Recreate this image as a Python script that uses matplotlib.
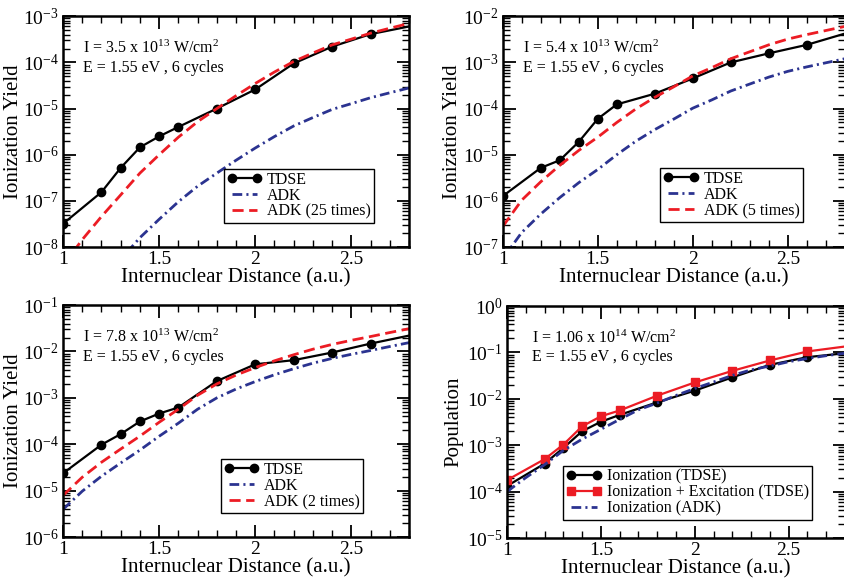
import matplotlib
matplotlib.use('Agg')
import matplotlib.pyplot as plt
import matplotlib.ticker as ticker
import numpy as np

# data
tdse_r = [1.0, 1.2, 1.3, 1.4, 1.5, 1.6, 1.8, 2.0, 2.2, 2.4, 2.6, 2.8]
adk_r = [1.0, 1.1, 1.2, 1.3, 1.4, 1.5, 1.6, 1.7, 1.8, 1.9,
         2.0, 2.1, 2.2, 2.3, 2.4, 2.5, 2.6, 2.7, 2.8]

tdse_35 = [3.2e-8, 1.55e-7, 5.2e-7, 1.45e-6, 2.5e-6, 4.0e-6, 1.0e-5, 2.6e-5,
           9.5e-5, 2.2e-4, 4.1e-4, 6.0e-4]
adk_35 = [1.6e-10, 5.8e-10, 1.84e-9, 5.4e-9, 1.6e-8, 4.0e-8, 9.6e-8, 2.08e-7,
          4.0e-7, 7.6e-7, 1.4e-6, 2.48e-6, 4.2e-6, 6.4e-6, 9.6e-6, 1.28e-5,
          1.72e-5, 2.2e-5, 2.8e-5]

tdse_54 = [1.27e-6, 5.2e-6, 7.6e-6, 1.9e-5, 6.0e-5, 1.23e-4, 2.1e-4, 4.5e-4,
           1.0e-3, 1.57e-3, 2.4e-3, 4.2e-3]
adk_54 = [5.6e-8, 2.08e-7, 5.2e-7, 1.18e-6, 2.48e-6, 4.8e-6, 1.0e-5, 1.96e-5,
          3.5e-5, 5.92e-5, 1.02e-4, 1.54e-4, 2.4e-4, 3.4e-4, 4.8e-4, 6.4e-4,
          8.0e-4, 9.8e-4, 1.2e-3]

tdse_78 = [2.37e-5, 9.8e-5, 1.66e-4, 3.1e-4, 4.6e-4, 6.2e-4, 2.3e-3, 5.3e-3,
           6.5e-3, 9.5e-3, 1.48e-2, 2.2e-2]
adk_78 = [3.95e-6, 9.75e-6, 2.05e-5, 3.95e-5, 7.5e-5, 1.49e-4, 2.85e-4, 5.7e-4,
          1.0e-3, 1.55e-3, 2.25e-3, 3.15e-3, 4.25e-3, 5.6e-3, 7.1e-3, 8.7e-3,
          1.05e-2, 1.28e-2, 1.55e-2]

ion_106 = [1.32e-4, 4.0e-4, 8.7e-4, 2.0e-3, 3.2e-3, 4.5e-3, 8.4e-3, 1.5e-2,
           2.9e-2, 5.4e-2, 7.9e-2, 9.6e-2]
ionexc_106 = [1.77e-4, 5.0e-4, 1.03e-3, 2.55e-3, 4.2e-3, 5.6e-3, 1.17e-2,
              2.25e-2, 4.0e-2, 6.7e-2, 1.05e-1, 1.34e-1]
adk_106 = [1.0e-4, 2.0e-4, 3.8e-4, 7.7e-4, 1.35e-3, 2.2e-3, 3.6e-3, 5.8e-3,
           8.1e-3, 1.18e-2, 1.67e-2, 2.3e-2, 3.2e-2, 4.2e-2, 5.1e-2, 6.3e-2,
           7.4e-2, 8.5e-2, 9.6e-2]

plt.rcParams['font.family'] = ['Liberation Serif', 'DejaVu Serif']
plt.rcParams['mathtext.fontset'] = 'custom'
plt.rcParams['mathtext.rm'] = 'Liberation Serif'
plt.rcParams['mathtext.it'] = 'Liberation Serif:italic'
plt.rcParams['lines.scale_dashes'] = False

blue = '#2b3390'
red = '#ec1c24'
dashdot = (7, 3, 1.5, 3)
dashed = (8, 4)

fig = plt.figure(figsize=(8.45, 5.8), dpi=100)


def setup_axes(ax, ylo, yhi, ylabel, ylab_x):
    ax.set_yscale('log')
    ax.set_xlim(1, 2.8)
    ax.set_ylim(ylo, yhi)
    ax.xaxis.set_major_locator(ticker.FixedLocator([1, 1.5, 2, 2.5]))
    ax.xaxis.set_major_formatter(ticker.FormatStrFormatter('%g'))
    ax.xaxis.set_minor_locator(ticker.MultipleLocator(0.1))
    ax.yaxis.set_major_locator(ticker.LogLocator(base=10, numticks=20))
    ax.yaxis.set_minor_locator(ticker.LogLocator(base=10, subs=np.arange(2, 10), numticks=20))
    ax.yaxis.set_minor_formatter(ticker.NullFormatter())
    ax.tick_params(which='both', direction='in', top=True, right=True)
    ax.tick_params(which='major', length=9, width=1.3, labelsize=14, pad=3)
    ax.tick_params(which='minor', length=5, width=1.0)
    for s in ax.spines.values():
        s.set_linewidth(1.8)
    ax.set_xlabel('Internuclear Distance (a.u.)', fontsize=15, labelpad=0)
    ax.set_ylabel(ylabel, fontsize=15)
    ax.yaxis.set_label_coords(ylab_x, 0.5)


def legend(ax, anchor):
    leg = ax.legend(loc='lower right', bbox_to_anchor=anchor, fontsize=11.5,
                    numpoints=2, handlelength=2.2, handletextpad=0.3,
                    labelspacing=0.0, borderpad=0.2, borderaxespad=0,
                    fancybox=False, framealpha=1, edgecolor='black')
    leg.get_frame().set_linewidth(1.0)


def tdse_plot(ax, r, y, label, color='black', marker='o'):
    ax.plot(r, y, color=color, lw=1.6, marker=marker, ms=6,
            markevery=slice(0, len(r) - 1), label=label)


panels = [
    ([0.0746, 0.574, 0.4095, 0.398], tdse_35, adk_35, 25, 1e-8, 1e-3,
     r'I = 3.5 x 10$^{13}$ W/cm$^{2}$', (0.899, 0.104), -0.115),
    ([0.595, 0.574, 0.4047, 0.398], tdse_54, adk_54, 5, 1e-7, 1e-2,
     r'I = 5.4 x 10$^{13}$ W/cm$^{2}$', (0.877, 0.108), -0.118),
    ([0.0746, 0.074, 0.4095, 0.400], tdse_78, adk_78, 2, 1e-6, 1e-1,
     r'I = 7.8 x 10$^{13}$ W/cm$^{2}$', (0.867, 0.103), -0.115),
]

for rect, tdse, adk, factor, ylo, yhi, itext, anchor, ylab_x in panels:
    ax = fig.add_axes(rect)
    tdse_plot(ax, tdse_r, tdse, 'TDSE')
    ax.plot(adk_r, adk, color=blue, lw=2, dashes=dashdot, label='ADK')
    ax.plot(adk_r, np.array(adk) * factor, color=red, lw=2, dashes=dashed,
            label='ADK (%d times)' % factor)
    setup_axes(ax, ylo, yhi, 'Ionization Yield', ylab_x)
    ax.text(0.058, 0.86, itext, transform=ax.transAxes, fontsize=11.5, va='center')
    ax.text(0.058, 0.775, 'E = 1.55 eV , 6 cycles', transform=ax.transAxes,
            fontsize=11.5, va='center')
    legend(ax, anchor)

# population panel
ax = fig.add_axes([0.600, 0.0724, 0.4, 0.400])
tdse_plot(ax, tdse_r, ion_106, 'Ionization (TDSE)')
tdse_plot(ax, tdse_r, ionexc_106, 'Ionization + Excitation (TDSE)', color=red, marker='s')
ax.plot(adk_r, adk_106, color=blue, lw=2, dashes=dashdot, label='Ionization (ADK)')
setup_axes(ax, 1e-5, 1, 'Population', -0.13)
ax.text(0.074, 0.86, r'I = 1.06 x 10$^{14}$ W/cm$^{2}$', transform=ax.transAxes,
        fontsize=11.5, va='center')
ax.text(0.074, 0.78, 'E = 1.55 eV , 6 cycles', transform=ax.transAxes,
        fontsize=11.5, va='center')
legend(ax, (0.902, 0.078))

fig.savefig('out.png', dpi=100)
